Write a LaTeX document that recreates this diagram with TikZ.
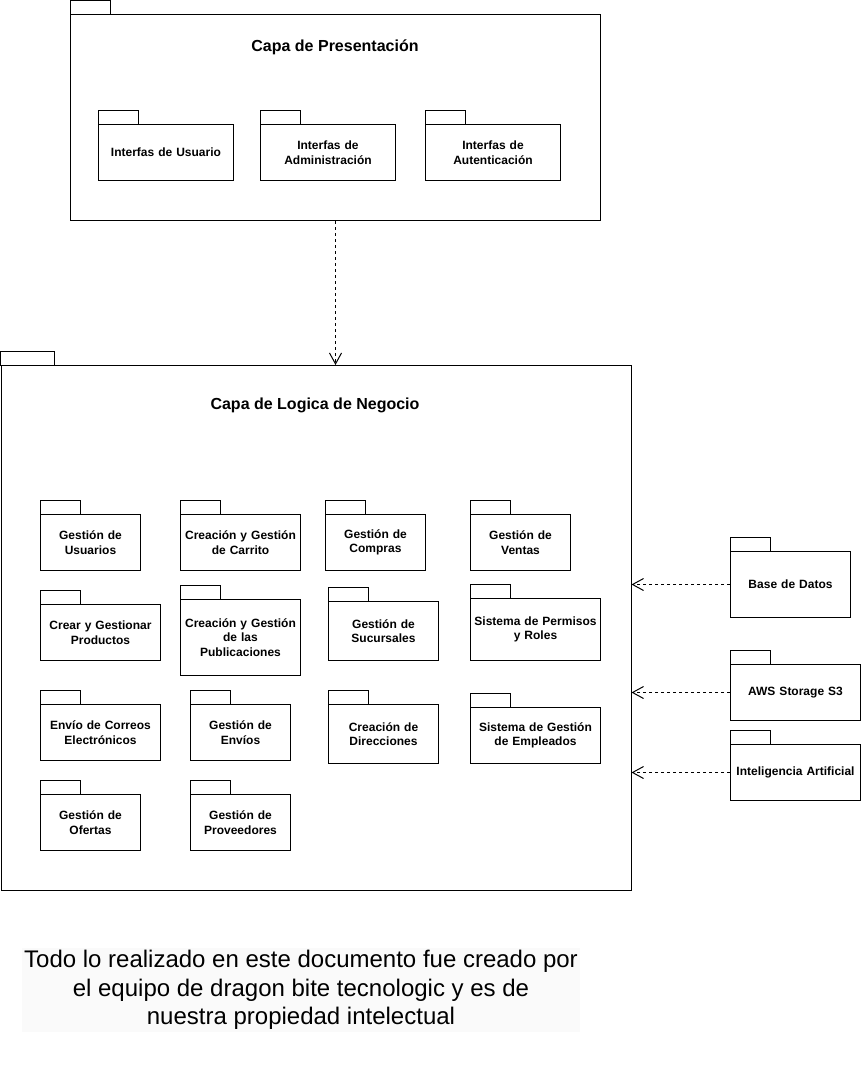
\documentclass[tikz,border=0pt]{standalone}
\usepackage{fontspec}
\setmainfont{Liberation Sans}
\usetikzlibrary{arrows.meta}
\definecolor{footerbg}{HTML}{FAFAFA}
\tikzset{
  pkgbody/.style={draw=black, line width=1pt, fill=white, inner sep=2pt, align=center,
    font=\bfseries\fontsize{12}{14.5}\selectfont, anchor=north west},
  pkgtab/.style={draw=black, line width=1pt, fill=white},
  bigtitle/.style={font=\bfseries\fontsize{16}{19}\selectfont, inner sep=0pt},
  dep/.style={draw=black, line width=1pt, dash pattern=on 3pt off 3pt,
    -{Straight Barb[length=11pt,width=12pt,line width=1pt]}},
  footer/.style={fill=footerbg, inner sep=0pt, align=center,
    font=\fontsize{24}{28.5}\selectfont, minimum width=558pt, minimum height=84pt}
}
% \pkg{name}{x}{tabtop}{bodytop}{width}{height}{tabwidth}{text}
\newcommand{\pkg}[8]{%
  \draw[pkgtab] (#2,#3) rectangle (#2+#7,#4);
  \node[pkgbody, minimum width=#5pt, minimum height=#6pt, text width=#5pt-6pt] (#1) at (#2,#4) {#8};
}
\begin{document}
\begin{tikzpicture}[x=1pt,y=-1pt]
\useasboundingbox (0,0) rectangle (861,1071);
\fill[white] (0,0) rectangle (861,1071);

% Capa de Presentacion
\pkg{pres}{70}{0}{14}{530}{206}{40}{}
\node[bigtitle] (prestitle) at (335,47) {Capa de Presentación};
\pkg{iu}{98}{110}{124}{135}{56}{40}{Interfas de Usuario}
\pkg{iadm}{260}{110}{124}{135}{56}{40}{Interfas de\\Administración}
\pkg{iaut}{425}{110}{124}{135}{56}{40}{Interfas de\\Autenticación}

% Capa de Logica de Negocio
\pkg{logic}{0.5}{351}{365}{630}{525}{54}{}
\node[bigtitle] (logictitle) at (315,405) {Capa de Logica de Negocio};

\pkg{gu}{40}{500}{514}{100}{56}{40}{Gestión de\\Usuarios}
\pkg{gc}{180}{500}{514}{120}{56}{40}{Creación y Gestión\\de Carrito}
\pkg{gcom}{325}{500}{514}{100}{56}{40}{Gestión de\\Compras}
\pkg{gv}{470}{500}{514}{100}{56}{40}{Gestión de\\Ventas}

\pkg{cp}{40}{590}{604}{120}{56}{40}{Crear y Gestionar\\Productos}
\pkg{cgp}{180}{585}{599}{120}{76}{40}{Creación y Gestión\\de las\\Publicaciones}
\pkg{gs}{328}{587}{601}{110}{59}{40}{Gestión de\\Sucursales}
\pkg{spr}{470}{584}{598}{130}{62}{40}{Sistema de Permisos\\y Roles}

\pkg{ec}{40}{690}{704}{120}{56}{40}{Envío de Correos\\Electrónicos}
\pkg{ge}{190}{690}{704}{100}{56}{40}{Gestión de\\Envíos}
\pkg{cd}{328}{690}{704}{110}{59}{40}{Creación de\\Direcciones}
\pkg{sge}{470}{693}{707}{130}{56}{40}{Sistema de Gestión\\de Empleados}

\pkg{go}{40}{780}{794}{100}{56}{40}{Gestión de\\Ofertas}
\pkg{gp}{190}{780}{794}{100}{56}{40}{Gestión de\\Proveedores}

% Externos
\pkg{bd}{730}{537}{551}{120}{66}{40}{Base de Datos}
\pkg{aws}{730}{650}{664}{130}{56}{40}{AWS Storage S3}
\pkg{ia}{730}{730}{744}{130}{56}{40}{Inteligencia Artificial}

% Dependencias
\draw[dep] (pres.south) -- (pres.south |- logic.north);
\draw[dep] (bd.west) -- (logic.east |- bd.west);
\draw[dep] (aws.west) -- (logic.east |- aws.west);
\draw[dep] (ia.west) -- (logic.east |- ia.west);

% Nota
\node[footer] (nota) at (301,990) {Todo lo realizado en este documento fue creado por\\el equipo de dragon bite tecnologic y es de\\nuestra propiedad intelectual};
\end{tikzpicture}
\end{document}
